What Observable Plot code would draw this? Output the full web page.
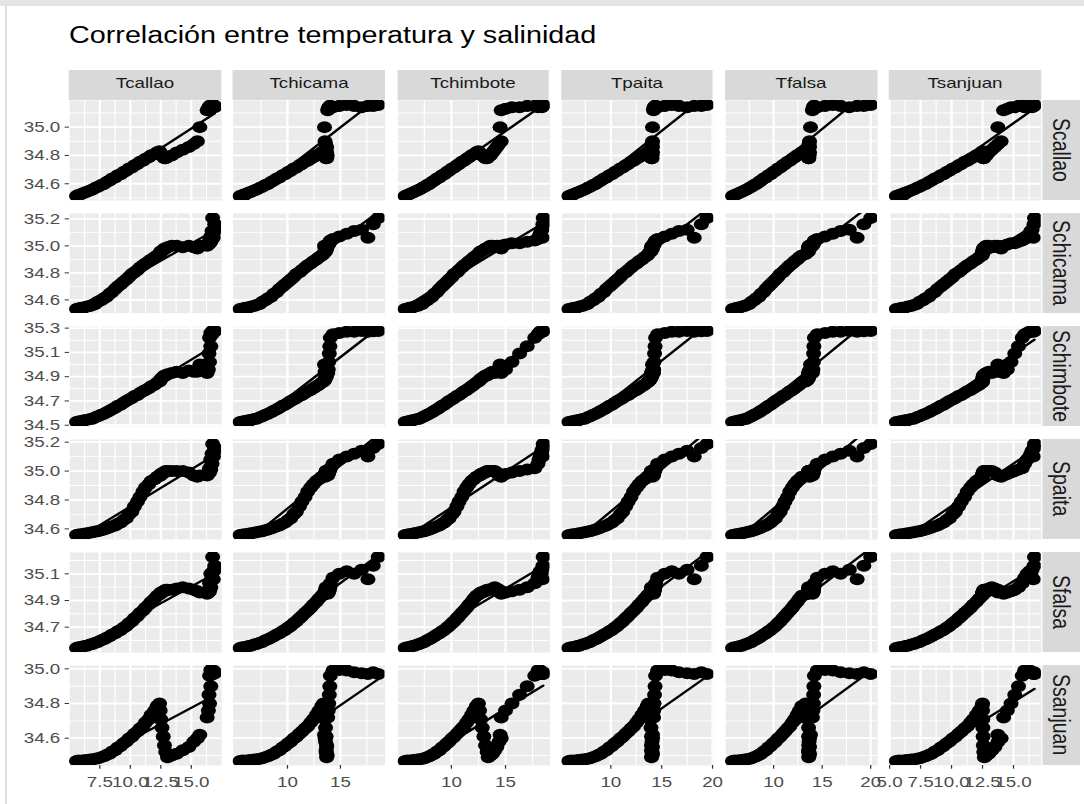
<!DOCTYPE html>
<html>
<head>
<meta charset="utf-8">
<script src="https://cdn.jsdelivr.net/npm/d3@7"></script>
<script src="https://cdn.jsdelivr.net/npm/@observablehq/plot@0.6"></script>
<style>
  html, body { margin: 0; padding: 0; background: #fff; }
  body { width: 1084px; height: 804px; overflow: hidden; position: relative;
         font-family: "Liberation Sans", Arial, sans-serif; }
  #edge-top { position: absolute; left: 0; top: 0; width: 1084px; height: 6px; background: #e4e4e4; }
  #edge-left { position: absolute; left: 5px; top: 6px; width: 2px; height: 798px; background: #e0e0e0; }
  /* the figure is laid out in its own units and widened to the page */
  #figure { position: absolute; left: 0; top: 0; width: 867.2px; height: 804px;
            transform: scaleX(1.25); transform-origin: 0 0; }
  .title { position: absolute; font-size: 23px; line-height: 1; color: #000; white-space: nowrap; }
  .strip { position: absolute; background: #D9D9D9; color: #1A1A1A;
           text-align: center; white-space: nowrap; overflow: hidden; }
  .strip.top { font-size: 15px; line-height: 25px; }
  .strip.right { font-size: 19.5px; writing-mode: vertical-rl; line-height: 30px; }
  .panel text { fill: #4D4D4D; font-family: "Liberation Sans", Arial, sans-serif; }
</style>
</head>
<body>
<div id="edge-top"></div>
<div id="edge-left"></div>
<div id="figure"></div>
<script>
// Temperature (°C) and salinity profiles for each station, one value per level.
const tempNames = ["Tcallao", "Tchicama", "Tchimbote", "Tpaita", "Tfalsa", "Tsanjuan"];
const salNames  = ["Scallao", "Schicama", "Schimbote", "Spaita", "Sfalsa", "Ssanjuan"];

const Tcallao = [
  5.59, 5.74, 5.97, 6.21, 6.44, 6.69, 6.9, 7.13, 7.35, 7.61,
  7.84, 8.06, 8.31, 8.51, 8.76, 8.97, 9.21, 9.44, 9.67, 9.89,
  10.13, 10.34, 10.59, 10.79, 11.04, 11.24, 11.51, 11.71, 11.99, 12.2,
  12.4, 12.45, 12.5, 12.6, 12.7, 12.8, 12.9, 13.05, 13.4, 13.8, 14.3, 14.8, 15.2, 15.5,
  15.7,
  16.3, 16.4, 16.5, 16.45, 16.6, 16.5,
  16.7, 16.6, 16.8, 16.7, 16.9, 16.8, 16.92, 16.75];
const Tchicama = [
  5.52, 5.76, 6.01, 6.31, 6.55, 6.84, 7.09, 7.39, 7.63, 7.91,
  8.17, 8.45, 8.71, 8.99, 9.24, 9.53, 9.77, 10.06, 10.31, 10.59,
  10.84, 11.13, 11.37, 11.66, 11.91, 12.19, 12.44, 12.73, 12.97, 13.24,
  13.4, 13.5, 13.55, 13.6, 13.65, 13.7, 13.65, 13.7, 13.75, 13.7, 13.65, 13.7, 13.6, 13.55,
  13.5,
  13.8, 13.85, 13.9, 13.95, 14.0, 14.05,
  14.3, 14.9, 15.6, 16.3, 17.0, 17.6, 18.1, 18.57];
const Tchimbote = [
  5.72, 5.93, 6.14, 6.39, 6.59, 6.85, 7.05, 7.31, 7.51, 7.76,
  7.97, 8.21, 8.43, 8.67, 8.89, 9.13, 9.34, 9.59, 9.79, 10.05,
  10.25, 10.51, 10.71, 10.96, 11.17, 11.41, 11.62, 11.87, 12.07, 12.31,
  12.5, 12.6, 12.7, 12.85, 13.0, 13.15, 13.3, 13.4, 13.6, 13.8, 14.0, 14.2, 14.4, 14.6,
  14.5,
  14.6, 15.0, 15.6, 16.3, 17.0, 17.7,
  18.0, 18.1, 18.2, 18.3, 18.35, 18.4, 18.45, 18.48];
const Tpaita = [
  5.87, 6.11, 6.37, 6.66, 6.91, 7.19, 7.44, 7.73, 7.97, 8.26,
  8.51, 8.79, 9.04, 9.33, 9.57, 9.86, 10.11, 10.39, 10.64, 10.93,
  11.17, 11.46, 11.71, 11.99, 12.24, 12.53, 12.77, 13.06, 13.31, 13.58,
  13.7, 13.8, 13.9, 13.95, 14.0, 14.0, 14.05, 14.0, 14.05, 14.1, 14.0, 14.1, 14.05, 14.1,
  14.1,
  14.2, 14.22, 14.25, 14.3, 14.35, 14.4,
  14.6, 15.3, 16.0, 16.7, 17.5, 18.2, 18.9, 19.45];
const Tfalsa = [
  5.77, 5.99, 6.23, 6.51, 6.74, 7.01, 7.23, 7.51, 7.73, 7.99,
  8.22, 8.49, 8.71, 8.98, 9.21, 9.47, 9.69, 9.96, 10.19, 10.45,
  10.68, 10.95, 11.17, 11.44, 11.67, 11.93, 12.16, 12.43, 12.65, 12.9,
  13.3, 13.45, 13.55, 13.6, 13.6, 13.62, 13.6, 13.62, 13.65, 13.7, 13.6, 13.7, 13.65, 13.7,
  13.8,
  14.0, 14.05, 14.1, 14.12, 14.15, 14.2,
  14.5, 15.3, 16.1, 16.9, 17.8, 18.6, 19.3, 20.0];
const Tsanjuan = [
  5.54, 5.77, 5.99, 6.25, 6.47, 6.73, 6.95, 7.21, 7.43, 7.69,
  7.91, 8.17, 8.39, 8.65, 8.87, 9.13, 9.35, 9.61, 9.83, 10.09,
  10.31, 10.57, 10.79, 11.05, 11.27, 11.53, 11.75, 12.01, 12.23, 12.46,
  12.5, 12.5, 12.52, 12.53, 12.55, 12.57, 12.6, 12.65, 12.8, 13.0, 13.25, 13.5, 13.75, 14.0,
  13.74,
  14.2, 14.5, 14.8, 15.1, 15.4, 15.7,
  15.9, 16.1, 16.3, 16.4, 16.5, 16.6, 16.65, 16.69];

const Scallao = [
  34.514, 34.521, 34.528, 34.536, 34.543, 34.552, 34.559, 34.571, 34.579, 34.592,
  34.599, 34.612, 34.623, 34.637, 34.644, 34.661, 34.668, 34.683, 34.692, 34.707,
  34.714, 34.731, 34.739, 34.756, 34.763, 34.777, 34.788, 34.802, 34.809, 34.822,
  34.83, 34.82, 34.81, 34.8, 34.79, 34.78, 34.78, 34.79, 34.8, 34.82, 34.84, 34.86, 34.88, 34.9,
  35.0,
  35.12, 35.13, 35.14, 35.14, 35.15, 35.15,
  35.14, 35.15, 35.156, 35.15, 35.14, 35.15, 35.15, 35.156];
const Schicama = [
  34.533, 34.537, 34.541, 34.544, 34.551, 34.554, 34.562, 34.569, 34.586, 34.598,
  34.612, 34.624, 34.646, 34.659, 34.681, 34.699, 34.716, 34.734, 34.751, 34.769,
  34.791, 34.804, 34.821, 34.839, 34.856, 34.869, 34.886, 34.899, 34.916, 34.929,
  34.94, 34.95, 34.96, 34.96, 34.97, 34.98, 34.98, 34.99, 35.0, 35.0, 34.99, 35.0, 34.99, 34.98,
  35.0,
  35.0, 35.01, 35.02, 35.02, 35.03, 35.04,
  35.05, 35.07, 35.09, 35.11, 35.12, 35.06, 35.16, 35.206];
const Schimbote = [
  34.527, 34.531, 34.534, 34.541, 34.544, 34.551, 34.554, 34.566, 34.574, 34.586,
  34.594, 34.606, 34.619, 34.631, 34.644, 34.661, 34.669, 34.686, 34.699, 34.711,
  34.724, 34.741, 34.749, 34.766, 34.779, 34.791, 34.804, 34.821, 34.834, 34.851,
  34.86, 34.87, 34.88, 34.89, 34.9, 34.91, 34.91, 34.92, 34.93, 34.94, 34.93, 34.95, 34.94, 34.94,
  35.0,
  34.93, 34.96, 35.02, 35.09, 35.15, 35.22,
  35.25, 35.26, 35.27, 35.27, 35.276, 35.27, 35.275, 35.276];
const Spaita = [
  34.558, 34.561, 34.562, 34.567, 34.569, 34.574, 34.576, 34.581, 34.584, 34.591,
  34.596, 34.603, 34.609, 34.618, 34.624, 34.636, 34.644, 34.661, 34.674, 34.701,
  34.719, 34.756, 34.789, 34.821, 34.859, 34.886, 34.909, 34.931, 34.944, 34.961,
  34.965, 34.97, 34.98, 34.98, 34.99, 34.99, 35.0, 35.0, 35.0, 35.0, 35.0, 34.99, 34.97, 34.96,
  34.97,
  34.97, 34.98, 34.99, 35.0, 35.01, 35.02,
  35.05, 35.08, 35.1, 35.12, 35.14, 35.1, 35.16, 35.187];
const Sfalsa = [
  34.544, 34.549, 34.551, 34.558, 34.561, 34.569, 34.574, 34.583, 34.589, 34.601,
  34.609, 34.621, 34.631, 34.644, 34.654, 34.669, 34.679, 34.696, 34.709, 34.729,
  34.744, 34.766, 34.784, 34.806, 34.824, 34.846, 34.869, 34.891, 34.914, 34.936,
  34.945, 34.95, 34.96, 34.96, 34.97, 34.97, 34.98, 34.98, 34.98, 34.99, 35.0, 34.99, 34.98, 34.97,
  34.96,
  34.95, 34.96, 34.97, 34.98, 35.0, 35.03,
  35.07, 35.1, 35.12, 35.1, 35.13, 35.06, 35.16, 35.226];
const Ssanjuan = [
  34.469, 34.471, 34.47, 34.473, 34.474, 34.477, 34.478, 34.482, 34.485, 34.491,
  34.496, 34.504, 34.511, 34.523, 34.531, 34.546, 34.555, 34.571, 34.581, 34.598,
  34.609, 34.626, 34.639, 34.656, 34.669, 34.691, 34.709, 34.736, 34.759, 34.786,
  34.8, 34.76, 34.71, 34.66, 34.61, 34.56, 34.52, 34.49, 34.5, 34.51, 34.53, 34.55, 34.58, 34.6,
  34.62,
  34.72, 34.76, 34.8, 34.85, 34.9, 34.96,
  34.99, 34.993, 34.99, 34.98, 34.975, 34.97, 34.98, 34.97];

// Axis breaks per facet column (temperature) and per facet row (salinity).
const xBreaks = [[7.5, 10, 12.5, 15], [10, 15], [10, 15], [10, 15, 20], [10, 15, 20], [5, 7.5, 10, 12.5, 15]];
const yBreaks = [[34.6, 34.8, 35.0], [34.6, 34.8, 35.0, 35.2], [34.5, 34.7, 34.9, 35.1, 35.3],
                 [34.6, 34.8, 35.0, 35.2], [34.7, 34.9, 35.1], [34.6, 34.8, 35.0]];

const temps = [Tcallao, Tchicama, Tchimbote, Tpaita, Tfalsa, Tsanjuan];
const sals = [Scallao, Schicama, Schimbote, Spaita, Sfalsa, Ssanjuan];

// Facet grid geometry
const PANEL_W = 121.6, PANEL_H = 100;
const LEFT0 = 55.2, COL_STEP = 131.2;
const TOP0 = 100, ROW_STEP = 113;
const STRIP_H = 30;

// free scales: each column / row spans its own data range plus 5% on each side
function expand(values) {
  const [a, b] = d3.extent(values);
  const pad = (b - a) * 0.05;
  return [a - pad, b + pad];
}
function inside(dom) { return (v) => v >= dom[0] - 1e-9 && v <= dom[1] + 1e-9; }
function minorBreaks(br, dom) {
  const step = br[1] - br[0];
  const ext = [br[0] - step, ...br, br[br.length - 1] + step];
  const out = [];
  for (let i = 0; i < ext.length - 1; i++) out.push((ext[i] + ext[i + 1]) / 2);
  return out.filter(inside(dom));
}

const fig = document.getElementById("figure");

const title = document.createElement("div");
title.className = "title";
title.textContent = "Correlación entre temperatura y salinidad";
title.style.left = LEFT0 + "px";
title.style.top = "23.5px";
fig.appendChild(title);

const xDomains = temps.map(expand);
const yDomains = sals.map(expand);

for (let r = 0; r < 6; r++) {
  for (let c = 0; c < 6; c++) {
    const xd = xDomains[c], yd = yDomains[r];
    const T = temps[c], S = sals[r];
    const data = T.map((t, i) => ({t, s: S[i]}));
    const ml = c === 0 ? LEFT0 : 0;
    const mb = r === 5 ? 40 : 0;
    const xMajor = xBreaks[c].filter(inside(xd));
    const yMajor = yBreaks[r].filter(inside(yd));
    const xFmt = xMajor.every(Number.isInteger) ? d3.format("d") : d3.format(".1f");

    const marks = [
      Plot.frame({fill: "#EBEBEB", stroke: "none"}),
      Plot.ruleX(minorBreaks(xBreaks[c], xd), {stroke: "#fff", strokeWidth: 0.9}),
      Plot.ruleY(minorBreaks(yBreaks[r], yd), {stroke: "#fff", strokeWidth: 0.9}),
      Plot.ruleX(xMajor, {stroke: "#fff", strokeWidth: 1.8}),
      Plot.ruleY(yMajor, {stroke: "#fff", strokeWidth: 1.8}),
      Plot.dot(data, {x: "t", y: "s", r: 6, fill: "black", stroke: "none", clip: true}),
      Plot.linearRegressionY(data, {x: "t", y: "s", ci: 0, stroke: "black", strokeWidth: 2.2, clip: true})
    ];
    if (c === 0) {
      marks.push(Plot.axisY(yMajor, {tickSize: 3.5, tickPadding: 4, tickFormat: d3.format(".1f"),
        fontSize: 15, stroke: "#333333", label: null}));
    }
    if (r === 5) {
      marks.push(Plot.axisX(xMajor, {tickSize: 3.7, tickPadding: 7, tickFormat: xFmt,
        fontSize: 15, stroke: "#333333", label: null}));
    }

    const svg = Plot.plot({
      width: ml + PANEL_W,
      height: PANEL_H + mb,
      marginLeft: ml, marginRight: 0, marginTop: 0, marginBottom: mb,
      x: {domain: xd, axis: null},
      y: {domain: yd, axis: null},
      style: {background: "none", color: "#333333", fontSize: "15px",
              fontFamily: "Liberation Sans, Arial, sans-serif", overflow: "visible"},
      marks
    });
    svg.classList.add("panel");
    svg.style.position = "absolute";
    svg.style.left = (LEFT0 + c * COL_STEP - ml) + "px";
    svg.style.top = (TOP0 + r * ROW_STEP) + "px";
    svg.style.maxWidth = "none";
    fig.appendChild(svg);
  }
}

// column strips
tempNames.forEach((name, c) => {
  const d = document.createElement("div");
  d.className = "strip top";
  d.textContent = name;
  d.style.left = (LEFT0 + c * COL_STEP) + "px";
  d.style.top = (TOP0 - STRIP_H) + "px";
  d.style.width = PANEL_W + "px";
  d.style.height = STRIP_H + "px";
  fig.appendChild(d);
});

// row strips
salNames.forEach((name, r) => {
  const d = document.createElement("div");
  d.className = "strip right";
  d.textContent = name;
  d.style.left = "834px";
  d.style.top = (TOP0 + r * ROW_STEP) + "px";
  d.style.width = "30px";
  d.style.height = PANEL_H + "px";
  fig.appendChild(d);
});
</script>
</body>
</html>
